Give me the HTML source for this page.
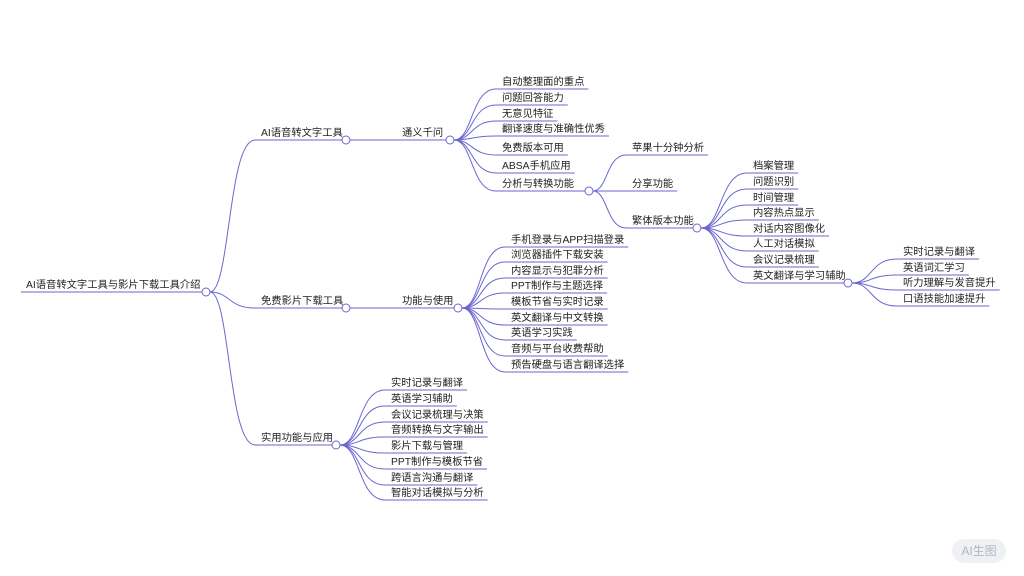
<!DOCTYPE html>
<html><head><meta charset="utf-8">
<style>
html,body{margin:0;padding:0;background:#fff;width:1024px;height:576px;overflow:hidden}
svg{position:absolute;left:0;top:0}
text{font-family:"Liberation Sans","Noto Sans CJK SC",sans-serif;font-size:10.3px;fill:#222}
.btn{position:absolute;left:952px;top:539px;width:54px;height:24px;border-radius:12px;background:#f0f1f5;color:#b4b6c2;font:12px "Liberation Sans","Noto Sans CJK SC",sans-serif;text-align:center;line-height:24px}
</style></head><body>
<svg id="s" width="1024" height="576" xmlns="http://www.w3.org/2000/svg"></svg>
<div class="btn">AI生图</div>
<script>
var C="#6b66d0";
var s=document.getElementById('s');
function el(n,a){var e=document.createElementNS("http://www.w3.org/2000/svg",n);for(var k in a)e.setAttribute(k,a[k]);s.appendChild(e);return e;}
function txt(x,y,t){var e=el('text',{x:x,y:y});e.textContent=t;return e.getComputedTextLength();}
var tree={x:26,y:292,t:"AI语音转文字工具与影片下载工具介绍",sx:21,cc:206,c:[
 {x:261,y:140,t:"AI语音转文字工具",cc:346,c:[
  {x:402,y:140,t:"通义千问",cc:450,c:[
   {x:502,y:89,t:"自动整理面的重点"},{x:502,y:105,t:"问题回答能力"},{x:502,y:121,t:"无意见特征"},
   {x:502,y:136,t:"翻译速度与准确性优秀"},{x:502,y:155,t:"免费版本可用"},{x:502,y:173,t:"ABSA手机应用"},
   {x:502,y:191,t:"分析与转换功能",cc:589,c:[
    {x:632,y:155,t:"苹果十分钟分析"},{x:632,y:191,t:"分享功能"},
    {x:632,y:228,t:"繁体版本功能",cc:697,c:[
     {x:753,y:173,t:"档案管理"},{x:753,y:189,t:"问题识别"},{x:753,y:205,t:"时间管理"},{x:753,y:220,t:"内容热点显示"},
     {x:753,y:236,t:"对话内容图像化"},{x:753,y:251,t:"人工对话模拟"},{x:753,y:267,t:"会议记录梳理"},
     {x:753,y:283,t:"英文翻译与学习辅助",cc:848,c:[
      {x:903,y:259,t:"实时记录与翻译"},{x:903,y:275,t:"英语词汇学习"},{x:903,y:290,t:"听力理解与发音提升"},{x:903,y:306,t:"口语技能加速提升"}]}]}]}]}]},
 {x:261,y:308,t:"免费影片下载工具",cc:346,c:[
  {x:402,y:308,t:"功能与使用",cc:458,c:[
   {x:511,y:247,t:"手机登录与APP扫描登录"},{x:511,y:262,t:"浏览器插件下载安装"},{x:511,y:278,t:"内容显示与犯罪分析"},
   {x:511,y:293,t:"PPT制作与主题选择"},{x:511,y:309,t:"模板节省与实时记录"},{x:511,y:325,t:"英文翻译与中文转换"},
   {x:511,y:340,t:"英语学习实践"},{x:511,y:356,t:"音频与平台收费帮助"},{x:511,y:372,t:"预告硬盘与语言翻译选择"}]}]},
 {x:261,y:445,t:"实用功能与应用",cc:336,c:[
  {x:391,y:390,t:"实时记录与翻译"},{x:391,y:406,t:"英语学习辅助"},{x:391,y:422,t:"会议记录梳理与决策"},
  {x:391,y:437,t:"音频转换与文字输出"},{x:391,y:453,t:"影片下载与管理"},{x:391,y:469,t:"PPT制作与模板节省"},
  {x:391,y:485,t:"跨语言沟通与翻译"},{x:391,y:500,t:"智能对话模拟与分析"}]}]};
function draw(n,px,py){
  var sx=n.sx!==undefined?n.sx:n.x-6;
  var w=txt(n.x,n.y-4,n.t);
  if(px!==undefined){
    el('path',{d:"M"+px+" "+py+" C"+(px+(sx-px)*0.45)+" "+py+" "+(px+(sx-px)*0.4)+" "+n.y+" "+sx+" "+n.y,fill:"none",stroke:C,"stroke-width":1});}
  if(n.c){
    var cx=n.cc;
    el('line',{x1:sx,y1:n.y,x2:cx-4,y2:n.y,stroke:C,"stroke-width":1});
    n.c.forEach(function(ch){draw(ch,cx+4,n.y);});
    el('circle',{cx:cx,cy:n.y,r:4,fill:"#fff",stroke:C,"stroke-width":1});
  } else el('line',{x1:sx,y1:n.y,x2:n.x+w+4,y2:n.y,stroke:C,"stroke-width":1});
}
draw(tree);
</script>
</body></html>
